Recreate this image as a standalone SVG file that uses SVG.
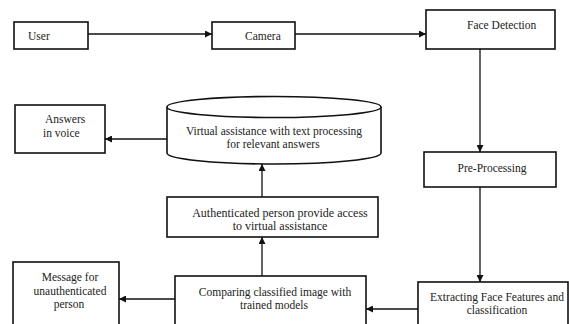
<svg xmlns="http://www.w3.org/2000/svg" width="569" height="324" viewBox="0 0 569 324">
<style>
.box{fill:#fff;stroke:#111;stroke-width:1.6}
.t{font-family:"Liberation Serif","Times New Roman",serif;font-size:11.5px;fill:#222}
.m{text-anchor:middle}
.c{fill:none;stroke:#111;stroke-width:1.3;marker-end:url(#ah)}
</style>
<defs>
<marker id="ah" viewBox="0 0 10 10" refX="10" refY="5" markerWidth="7" markerHeight="7" markerUnits="userSpaceOnUse" orient="auto">
<path d="M0,0 L10,5 L0,10 z" fill="#111"/>
</marker>
</defs>
<rect width="569" height="324" fill="#fff"/>
<g id="connectors">
<line class="c" x1="88" y1="34" x2="212" y2="34"/>
<line class="c" x1="295" y1="34" x2="426" y2="34"/>
<line class="c" x1="480" y1="49" x2="480" y2="152"/>
<line class="c" x1="480" y1="187" x2="480" y2="282"/>
<line class="c" x1="418" y1="309" x2="366" y2="309"/>
<line class="c" x1="175" y1="299" x2="119" y2="299"/>
<line class="c" x1="262" y1="276" x2="262" y2="237"/>
<line class="c" x1="262" y1="197" x2="262" y2="164"/>
<line class="c" x1="167" y1="139" x2="105" y2="139"/>
</g>
<g id="user">
<rect class="box" x="14" y="22" width="74" height="27"/>
<text class="t" x="28" y="40">User</text>
</g>
<g id="camera">
<rect class="box" x="212" y="22" width="83" height="27"/>
<text class="t" x="245" y="40">Camera</text>
</g>
<g id="face-detection">
<rect class="box" x="426" y="10" width="129" height="39"/>
<text class="t" x="467" y="29">Face Detection</text>
</g>
<g id="pre-processing">
<rect class="box" x="424" y="152" width="132" height="35"/>
<text class="t m" x="492" y="172">Pre-Processing</text>
</g>
<g id="answers">
<rect class="box" x="15" y="105" width="90" height="48"/>
<text class="t" x="45" y="123">Answers</text>
<text class="t" x="43" y="137">in voice</text>
</g>
<g id="virtual-assistance">
<path class="box" d="M167,107 L167,153 A107,11 0 0 0 381,153 L381,107"/>
<ellipse class="box" cx="274" cy="107" rx="107" ry="10.5"/>
<text class="t m" x="274" y="135">Virtual assistance with text processing</text>
<text class="t m" x="273" y="148">for relevant answers</text>
</g>
<g id="authenticated">
<rect class="box" x="167" y="197" width="211" height="40"/>
<text class="t m" x="280" y="217" style="font-size:12px">Authenticated person provide access</text>
<text class="t m" x="280" y="230" style="font-size:12px">to virtual assistance</text>
</g>
<g id="message">
<rect class="box" x="13" y="262" width="106" height="70"/>
<text class="t m" x="70" y="281">Message for</text>
<text class="t m" x="70" y="295">unauthenticated</text>
<text class="t m" x="69" y="308">person</text>
</g>
<g id="comparing">
<rect class="box" x="175" y="276" width="191" height="56"/>
<text class="t m" x="275" y="296">Comparing classified image with</text>
<text class="t m" x="274" y="309">trained models</text>
</g>
<g id="extracting">
<rect class="box" x="418" y="282" width="150" height="50"/>
<text class="t m" x="497" y="301">Extracting Face Features and</text>
<text class="t m" x="497" y="314">classification</text>
</g>
</svg>
